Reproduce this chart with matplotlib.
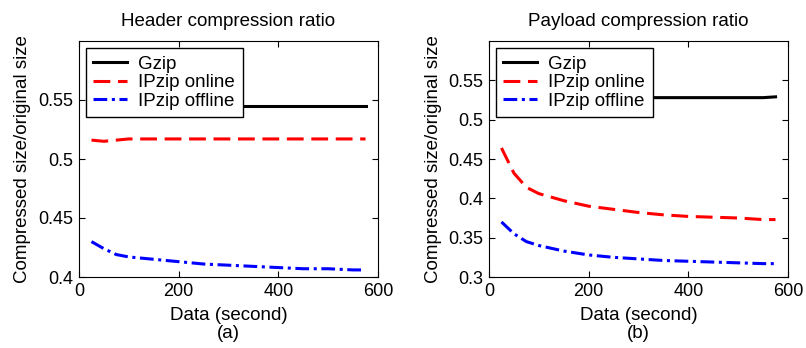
import numpy as np
import matplotlib
matplotlib.use("Agg")
import matplotlib.pyplot as plt

plt.rcParams["font.family"] = ["Liberation Sans", "DejaVu Sans"]
plt.rcParams["font.size"] = 13

# czas (sekundy)
czas = [25, 50, 75, 100, 150, 200, 250, 300, 350, 400, 450, 500, 550, 575]

# naglowki
hdr_gzip = [0.545, 0.545, 0.545, 0.545, 0.545, 0.545, 0.545, 0.545, 0.545, 0.545, 0.545, 0.545, 0.545, 0.545]
hdr_online = [0.516, 0.515, 0.516, 0.517, 0.517, 0.517, 0.517, 0.517, 0.517, 0.517, 0.517, 0.517, 0.517, 0.517]
hdr_offline = [0.430, 0.424, 0.419, 0.417, 0.415, 0.413, 0.411, 0.410, 0.409, 0.408, 0.407, 0.407, 0.406, 0.406]

# payload
pay_gzip = [0.528, 0.528, 0.528, 0.528, 0.528, 0.528, 0.528, 0.528, 0.528, 0.528, 0.528, 0.528, 0.528, 0.529]
pay_online = [0.464, 0.432, 0.414, 0.406, 0.397, 0.390, 0.386, 0.382, 0.379, 0.377, 0.376, 0.375, 0.373, 0.373]
pay_offline = [0.370, 0.355, 0.345, 0.340, 0.333, 0.328, 0.325, 0.323, 0.321, 0.320, 0.319, 0.318, 0.317, 0.317]

etykiety = ["Gzip", "IPzip online", "IPzip offline"]

fig = plt.figure(figsize=(8.06, 3.48), dpi=100)
ax1 = fig.add_axes([79/806, 1 - 277/348, 299/806, 236/348])
ax2 = fig.add_axes([489/806, 1 - 277/348, 299/806, 236/348])

panele = [
    (ax1, hdr_gzip, hdr_online, hdr_offline, "Header compression ratio", "(a)",
     (0.4, 0.6), [0.4, 0.45, 0.5, 0.55], ["0.4", "0.45", "0.5", "0.55"]),
    (ax2, pay_gzip, pay_online, pay_offline, "Payload compression ratio", "(b)",
     (0.3, 0.6), [0.3, 0.35, 0.4, 0.45, 0.5, 0.55], ["0.3", "0.35", "0.4", "0.45", "0.5", "0.55"]),
]

for ax, g, on, off, tytul, lit, ylim, yt, ytl in panele:
    ax.plot(czas, g, color="black", lw=2.2, ls="-", label=etykiety[0])
    ax.plot(czas, on, color="red", lw=2.2, ls=(0, (5.5, 2.5)), label=etykiety[1])
    ax.plot(czas, off, color="blue", lw=2.2, ls=(0, (4.5, 1.5, 1, 1.5)), label=etykiety[2])
    ax.set_xlim(0, 600)
    ax.set_ylim(*ylim)
    ax.set_xticks([0, 200, 400, 600])
    ax.set_yticks(yt)
    ax.set_yticklabels(ytl)
    ax.tick_params(direction="in", top=True, right=True, length=4, labelsize=13, pad=4)
    ax.set_title(tytul, fontsize=13.5, pad=11)
    ax.set_xlabel("Data (second)", fontsize=13.5, labelpad=5)
    ax.text(0.5, -0.205, lit, transform=ax.transAxes, ha="center", va="top", fontsize=13.5)
    ax.set_ylabel("Compressed size/original size", fontsize=13.5, labelpad=5)
    leg = ax.legend(loc="upper left", fancybox=False, framealpha=1, edgecolor="black",
                    fontsize=13.5, handlelength=1.8, borderpad=0.4, labelspacing=0.08,
                    borderaxespad=0.37, handletextpad=0.6)
    leg.get_frame().set_linewidth(1.0)

fig.savefig("out.png", dpi=100)
